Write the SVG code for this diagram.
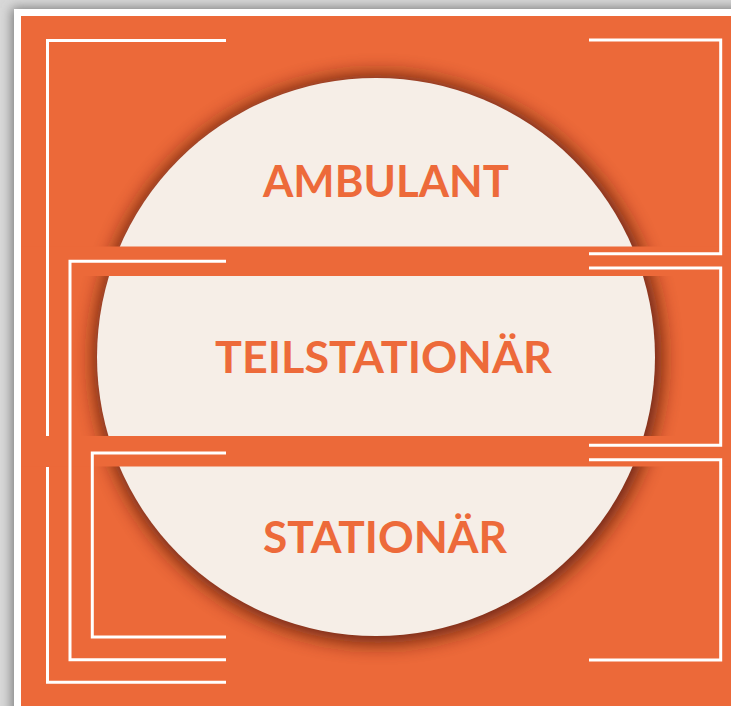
<svg xmlns="http://www.w3.org/2000/svg" width="731" height="706" viewBox="0 0 731 706">
  <defs>
    <filter id="cardShadow" x="-20%" y="-20%" width="140%" height="140%">
      <feGaussianBlur stdDeviation="6"/>
    </filter>
    <filter id="circleShadow" x="-20%" y="-20%" width="140%" height="140%">
      <feGaussianBlur stdDeviation="10"/>
    </filter>
  </defs>
  <style>
    .bracket { fill: none; stroke: #ffffff; stroke-width: 3; }
    .label { font-family: Lato, "Liberation Sans", sans-serif; font-weight: 700; font-size: 43px; fill: #ED6A3A; text-anchor: middle; }
    .stripe { fill: #EC6939; }
  </style>
  <rect x="0" y="0" width="731" height="706" fill="#d8d8d8"/>
  <rect x="12" y="8" width="740" height="720" fill="#777777" filter="url(#cardShadow)"/>
  <rect x="14" y="9" width="740" height="720" fill="#ffffff"/>
  <rect x="21" y="16" width="720" height="700" fill="#EC6939"/>

  <g id="circle">
    <circle cx="378" cy="359" r="284" fill="#5a1f08" opacity="0.9" filter="url(#circleShadow)"/>
    <circle cx="376" cy="357" r="279" fill="#F6EEE7"/>
  </g>

  <g id="stripes">
    <rect class="stripe" x="21" y="246.5" width="710" height="29.5"/>
    <rect class="stripe" x="21" y="436" width="710" height="30.5"/>
  </g>

  <g id="connectors">
    <polyline class="bracket" points="226,40.5 47.5,40.5 47.5,436"/>
    <polyline class="bracket" points="47.5,467 47.5,682.3 226,682.3"/>
    <polyline class="bracket" points="226,261.3 70,261.3 70,659.7 226,659.7"/>
    <polyline class="bracket" points="226,453 92.3,453 92.3,637 226,637"/>
    <polyline class="bracket" points="589,40 720.7,40 720.7,253.7 589,253.7"/>
    <polyline class="bracket" points="589,268 720.7,268 720.7,445.3 589,445.3"/>
    <polyline class="bracket" points="589,459.7 720.7,459.7 720.7,660 589,660"/>
  </g>

  <g id="ambulant">
    <text class="label" x="386" y="197" textLength="246" lengthAdjust="spacingAndGlyphs">AMBULANT</text>
  </g>
  <g id="teilstationaer">
    <text class="label" x="383.5" y="373" textLength="337" lengthAdjust="spacingAndGlyphs">TEILSTATIONÄR</text>
  </g>
  <g id="stationaer">
    <text class="label" x="385" y="553" textLength="244" lengthAdjust="spacingAndGlyphs">STATIONÄR</text>
  </g>
</svg>
